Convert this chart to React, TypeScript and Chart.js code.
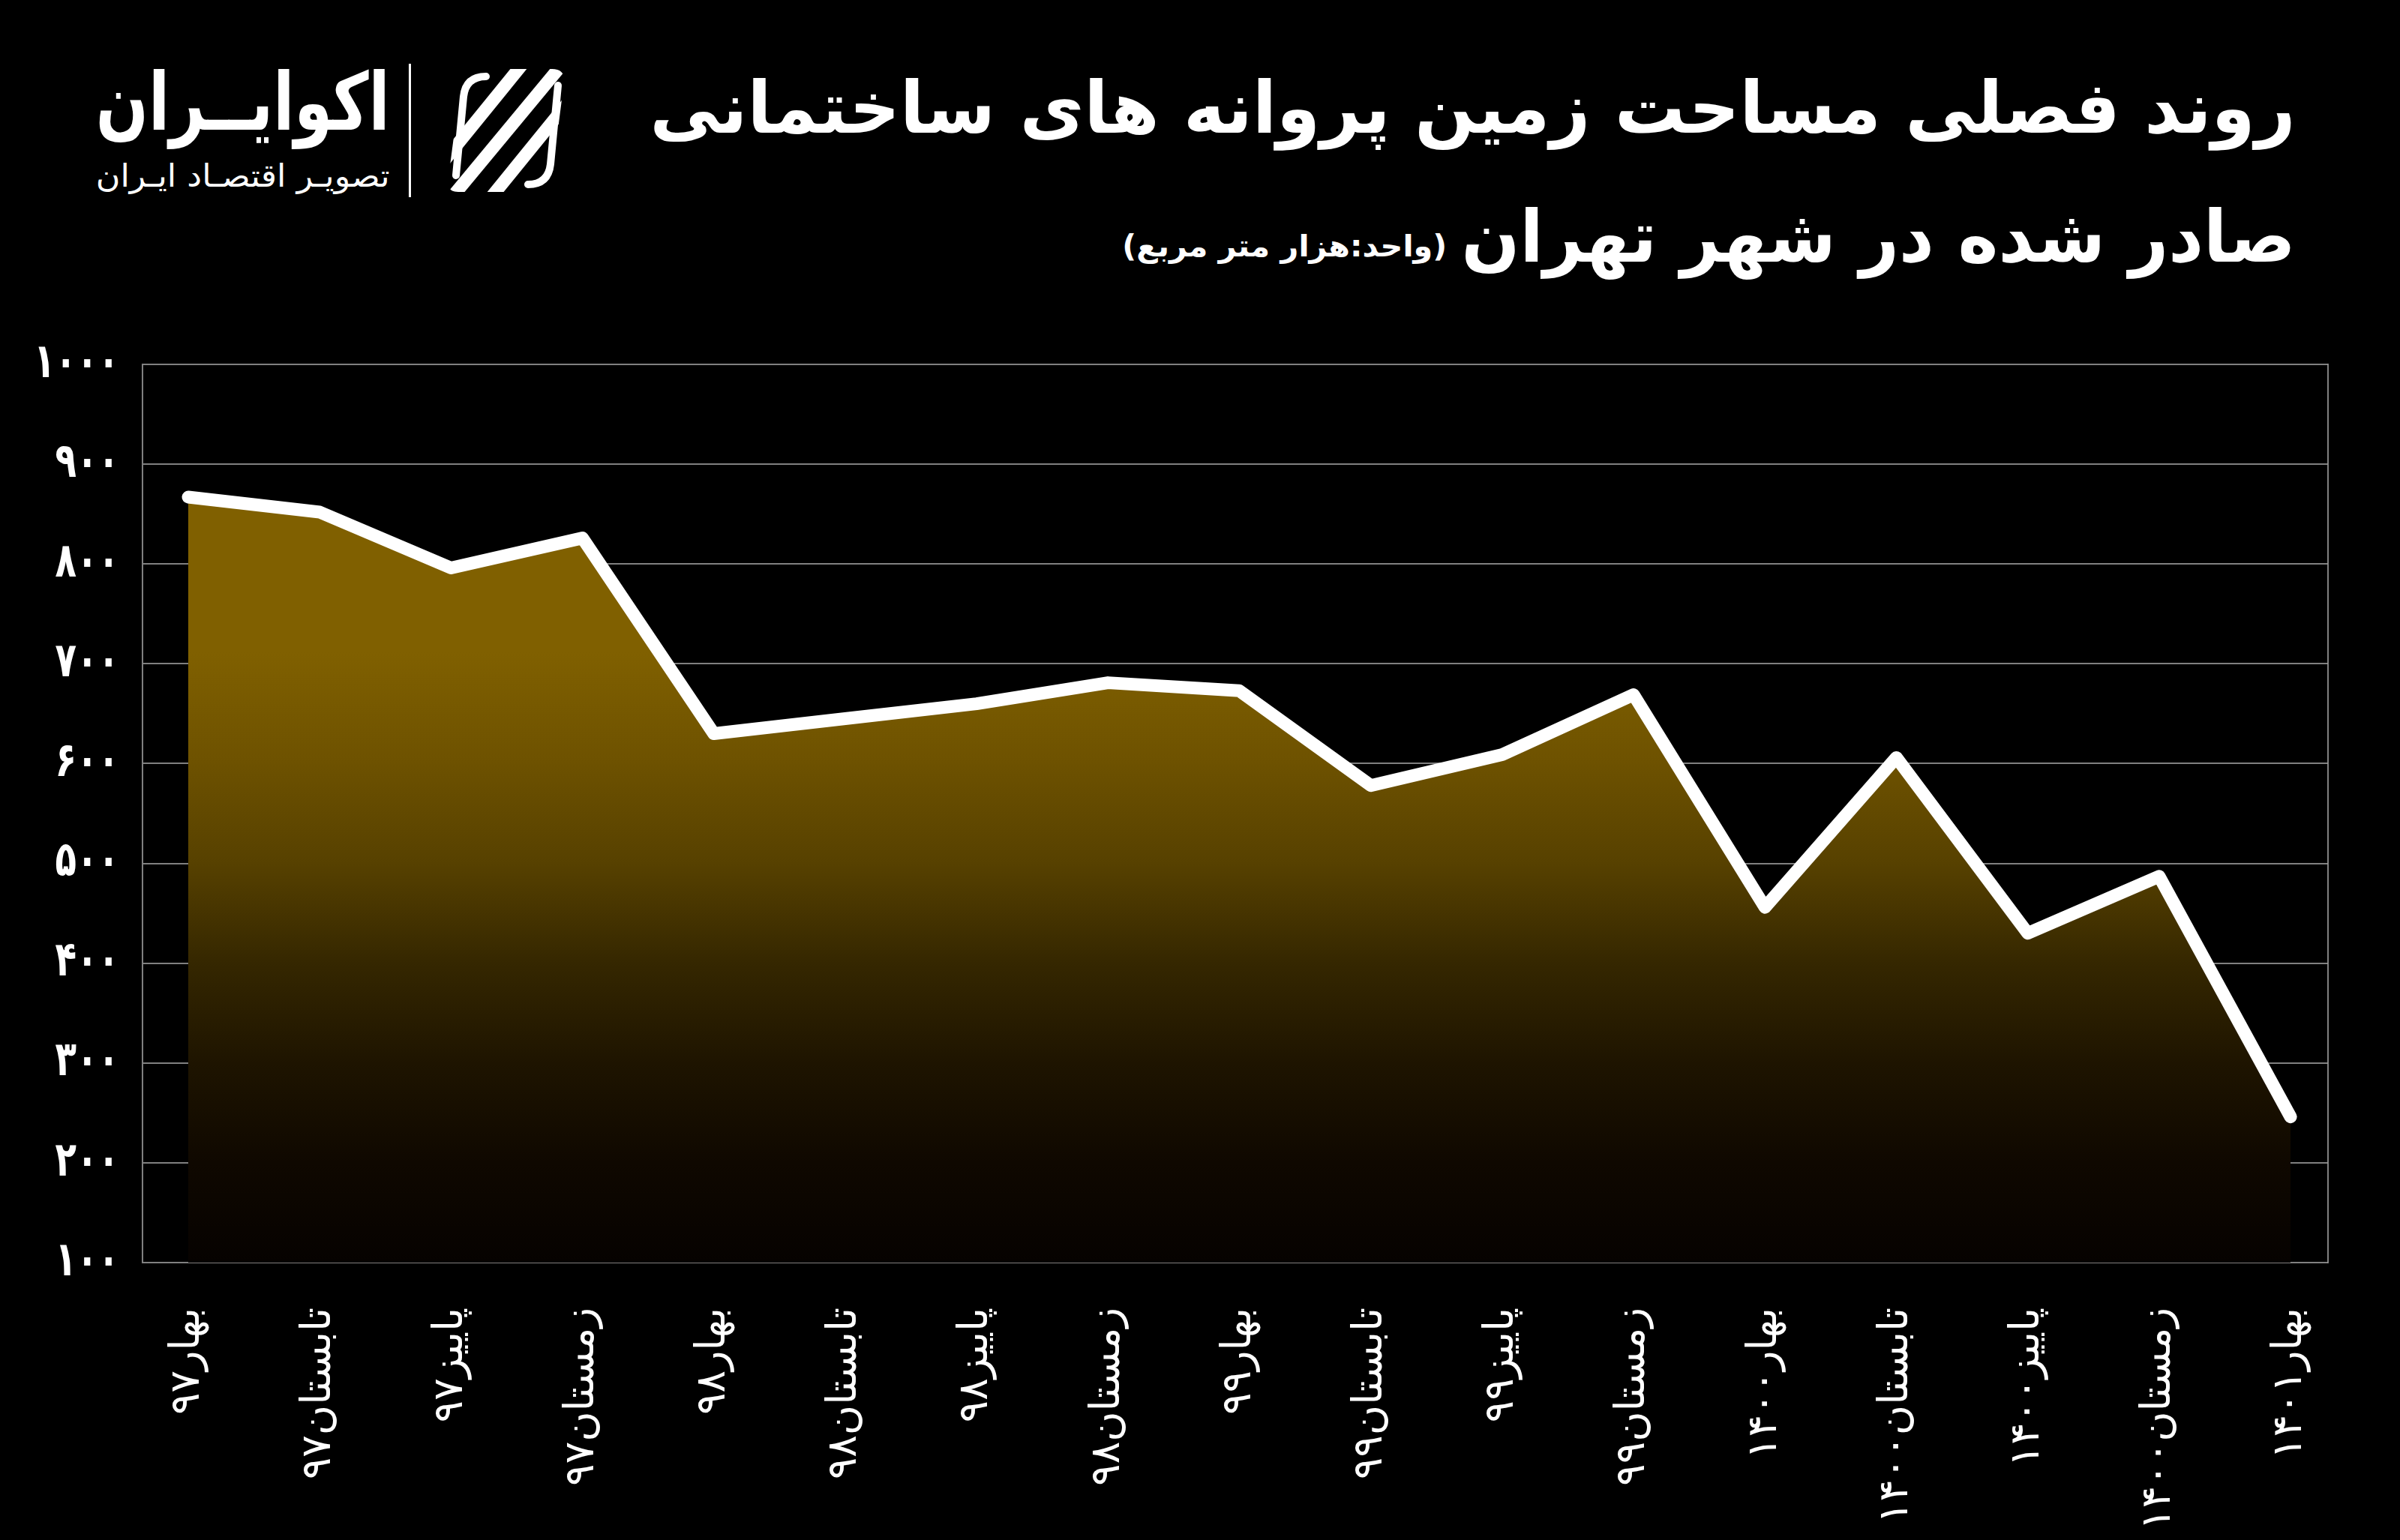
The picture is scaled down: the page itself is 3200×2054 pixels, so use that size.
import React, { useEffect, useLayoutEffect, useRef } from 'react';
import { Chart, registerables } from 'chart.js';

Chart.register(...registerables);

const categories = [
  'بهار۹۷', 'تابستان۹۷', 'پاییز۹۷', 'زمستان۹۷',
  'بهار۹۸', 'تابستان۹۸', 'پاییز۹۸', 'زمستان۹۸',
  'بهار۹۹', 'تابستان۹۹', 'پاییز۹۹', 'زمستان۹۹',
  'بهار۱۴۰۰', 'تابستان۱۴۰۰', 'پاییز۱۴۰۰', 'زمستان۱۴۰۰',
  'بهار۱۴۰۱',
];
const values = [867, 852, 796, 826, 630, 645, 660, 681, 673, 578, 609, 669, 456, 606, 430, 487, 246];
const yMin = 100;
const yMax = 1000;
const yStep = 100;

const titleLine1 = 'روند فصلی مساحت زمین پروانه های ساختمانی';
const titleLine2 = 'صادر شده در شهر تهران';
const unitNote = '(واحد:هزار متر مربع)';
const brandName = 'اکوایــران';
const brandTagline = 'تصویـر اقتصـاد ایـران';

const FONT = '"DejaVu Sans", "Noto Sans", sans-serif';
const toFa = (s: string) => s.replace(/\d/g, (d) => '۰۱۲۳۴۵۶۷۸۹'[Number(d)]);

function FitText(props: {
  text: string; right: number; top: number; width: number; size: number; weight?: number;
}) {
  const ref = useRef<HTMLDivElement>(null);
  useLayoutEffect(() => {
    const el = ref.current;
    if (!el) return;
    el.style.transform = 'none';
    const w = el.getBoundingClientRect().width;
    if (w > 0) el.style.transform = `scaleX(${props.width / w})`;
  }, [props.text, props.width]);
  return (
    <div
      ref={ref}
      style={{
        position: 'absolute',
        right: props.right,
        top: props.top,
        fontSize: props.size,
        fontWeight: props.weight ?? 700,
        lineHeight: 1,
        whiteSpace: 'nowrap',
        direction: 'rtl',
        transformOrigin: 'right center',
        fontFamily: FONT,
        color: '#ffffff',
      }}
    >
      {props.text}
    </div>
  );
}

function LogoIcon() {
  return (
    <svg width={175} height={180} viewBox="0 0 175 180" style={{ position: 'absolute', left: 586, top: 84 }}>
      <defs>
        <clipPath id="lc">
          <path d="M60 8 L150 8 Q168 8 166 26 L150 150 Q146 172 122 172 L25 172 Q8 172 12 152 L28 30 Q32 8 60 8 Z" />
        </clipPath>
      </defs>
      <g clipPath="url(#lc)" stroke="#fff" strokeWidth={17} strokeLinecap="butt">
        <line x1={-10} y1={150} x2={120} y2={-10} />
        <line x1={20} y1={175} x2={165} y2={0} />
        <line x1={60} y1={190} x2={190} y2={30} />
      </g>
      <path d="M62 18 Q35 18 32 45 L22 150" stroke="#fff" strokeWidth={10} fill="none" strokeLinecap="round" />
      <path d="M118 162 Q145 162 148 135 L158 30" stroke="#fff" strokeWidth={10} fill="none" strokeLinecap="round" />
    </svg>
  );
}

// Draws the y tick labels of the 'y' scale, horizontally condensed to match the reference's narrow digits.
const yLabelPlugin = {
  id: 'yLabelPlugin',
  afterDraw(chart: any) {
    const scale = chart.scales.y;
    const ctx = chart.ctx;
    ctx.save();
    ctx.font = `bold 64px ${FONT}`;
    ctx.fillStyle = '#ffffff';
    ctx.textAlign = 'right';
    ctx.textBaseline = 'middle';
    const factor = 114 / ctx.measureText(toFa(String(yMax))).width;
    const xRight = chart.chartArea.left - 31;
    scale.ticks.forEach((t: any) => {
      const y = scale.getPixelForValue(t.value);
      ctx.save();
      ctx.translate(xRight, y);
      ctx.scale(factor, 1);
      ctx.fillText(toFa(String(t.value)), 0, 0);
      ctx.restore();
    });
    ctx.restore();
  },
};

function ChartCanvas() {
  const ref = useRef<HTMLCanvasElement>(null);
  useEffect(() => {
    if (!ref.current) return;
    const gridColor = 'rgba(150,150,150,0.85)';
    const chart = new Chart(ref.current, {
      type: 'line',
      data: {
        datasets: [
          {
            data: values.map((v, i) => ({ x: i, y: v })),
            borderColor: '#ffffff',
            borderWidth: 17,
            borderCapStyle: 'round',
            borderJoinStyle: 'round',
            pointRadius: 0,
            tension: 0,
            fill: 'start',
            backgroundColor: (ctx: any) => {
              const a = ctx.chart.chartArea;
              if (!a) return '#806000';
              const g = ctx.chart.ctx.createLinearGradient(0, a.top, 0, a.bottom);
              g.addColorStop(0, '#806000');
              g.addColorStop(0.32, '#806000');
              g.addColorStop(0.44, '#6e5200');
              g.addColorStop(0.555, '#574100');
              g.addColorStop(0.666, '#352700');
              g.addColorStop(0.778, '#1e1400');
              g.addColorStop(0.889, '#0f0800');
              g.addColorStop(1, '#060200');
              return g;
            },
          },
        ],
      },
      options: {
        animation: false,
        responsive: false,
        maintainAspectRatio: false,
        devicePixelRatio: 1,
        layout: { padding: { top: 86, left: 0, right: 0, bottom: 0 } },
        plugins: { legend: { display: false }, tooltip: { enabled: false } },
        scales: {
          x: {
            type: 'linear',
            min: -0.348,
            max: 16.285,
            afterFit: (s: any) => { s.height = 370; },
            grid: { display: false, drawTicks: false },
            border: { display: false },
            ticks: {
              stepSize: 1,
              includeBounds: false,
              autoSkip: false,
              minRotation: 90,
              maxRotation: 90,
              padding: 60,
              color: '#ffffff',
              font: { family: FONT, size: 55 },
              callback: (v: any) => (Number.isInteger(v) ? categories[v] ?? '' : ''),
            },
          },
          y: {
            min: yMin,
            max: yMax,
            afterFit: (s: any) => { s.width = 190; },
            grid: { color: gridColor, lineWidth: 2, drawTicks: false },
            border: { display: true, color: gridColor, width: 2 },
            ticks: {
              stepSize: yStep,
              padding: 30,
              color: 'rgba(0,0,0,0)',
              font: { family: FONT, size: 20, weight: 'bold' },
              callback: (v: any) => toFa(String(v)),
            },
          },
          yR: {
            position: 'right',
            min: yMin,
            max: yMax,
            afterFit: (s: any) => { s.width = 96; },
            grid: { display: false, drawTicks: false },
            border: { display: true, color: gridColor, width: 2 },
            ticks: { display: false },
          },
        },
      },
      plugins: [yLabelPlugin],
    } as any);
    return () => chart.destroy();
  }, []);
  return (
    <canvas
      ref={ref}
      width={3200}
      height={1654}
      style={{ position: 'absolute', left: 0, top: 400, width: 3200, height: 1654 }}
    />
  );
}

export default function App() {
  useEffect(() => {
    document.body.style.margin = '0';
    document.body.style.background = '#000';
  }, []);
  return (
    <div style={{ position: 'relative', width: 3200, height: 2054, background: '#000', overflow: 'hidden' }}>
      <FitText text={titleLine1} right={139} top={96} width={2194} size={96} />
      <FitText text={titleLine2} right={139} top={268} width={1112} size={96} />
      <FitText text={unitNote} right={1271} top={308} width={433} size={40} />
      <FitText text={brandName} right={3200 - 520} top={84} width={392} size={106} />
      <FitText text={brandTagline} right={3200 - 520} top={214} width={392} size={42} weight={400} />
      <div style={{ position: 'absolute', left: 545, top: 85, width: 3, height: 178, background: '#fff' }} />
      <LogoIcon />
      <ChartCanvas />
    </div>
  );
}
